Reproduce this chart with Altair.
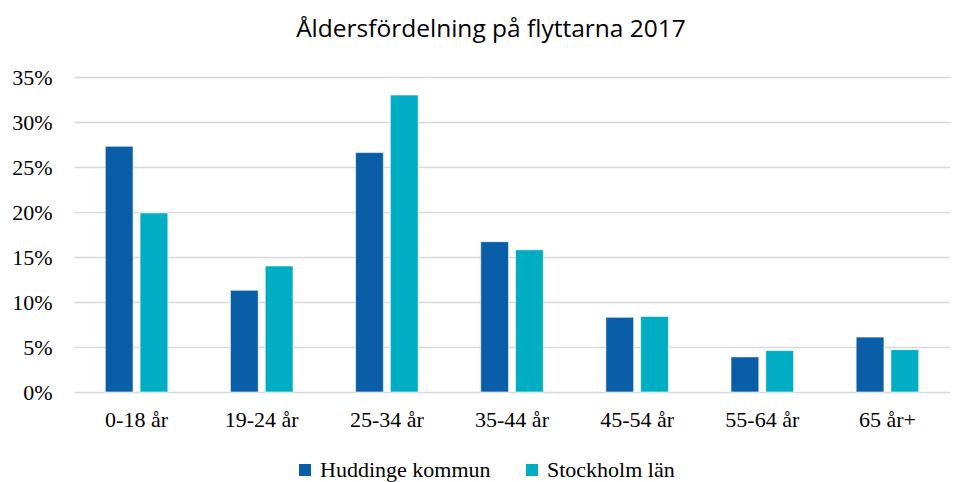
import altair as alt
import pandas as pd

categories = ["0-18 år", "19-24 år", "25-34 år", "35-44 år", "45-54 år", "55-64 år", "65 år+"]
huddinge = [0.273, 0.113, 0.266, 0.167, 0.083, 0.039, 0.061]
stockholm = [0.199, 0.140, 0.330, 0.158, 0.084, 0.046, 0.047]
series = ["Huddinge kommun", "Stockholm län"]
colors = ["#0A5EA8", "#00ADC2"]
y_ticks = [0, 0.05, 0.10, 0.15, 0.20, 0.25, 0.30, 0.35]

rows = []
for c, h, s in zip(categories, huddinge, stockholm):
    rows.append({"Ålder": c, "Serie": series[0], "Andel": h})
    rows.append({"Ålder": c, "Serie": series[1], "Andel": s})
df = pd.DataFrame(rows)

serif = "Liberation Serif, Times New Roman, serif"

chart = alt.Chart(df).mark_bar(stroke="#ffffff", strokeWidth=1, strokeOpacity=0.6).encode(
    x=alt.X("Ålder:N", sort=categories, title=None,
            scale=alt.Scale(paddingInner=0.5, paddingOuter=0.25),
            axis=alt.Axis(labelAngle=0, labelFont=serif, labelFontSize=22, labelColor="#000000",
                          domain=False, ticks=False, labelPadding=17, grid=False)),
    xOffset=alt.XOffset("Serie:N", sort=series, scale=alt.Scale(paddingInner=0.2)),
    y=alt.Y("Andel:Q", title=None,
            scale=alt.Scale(domain=[0, 0.35], nice=False),
            axis=alt.Axis(values=y_ticks, format=".0%", labelFont=serif, labelFontSize=22,
                          labelColor="#000000", domain=False, ticks=False, labelPadding=22,
                          gridColor="#d9d9d9", gridWidth=1.5)),
    color=alt.Color("Serie:N", sort=series,
                    scale=alt.Scale(domain=series, range=colors),
                    legend=alt.Legend(title=None, orient="none", legendX=220, legendY=382,
                                      direction="horizontal", symbolType="square", symbolSize=144,
                                      symbolStrokeWidth=0, labelOffset=4,
                                      labelFont=serif, labelFontSize=22, labelColor="#000000",
                                      columnPadding=30, labelLimit=300)),
).properties(
    width=876,
    height=315,
    title=alt.TitleParams("Åldersfördelning på flyttarna 2017", font="Open Sans", fontSize=24.5,
                          fontWeight="normal", color="#000000", offset=24, dx=-21),
    autosize=alt.AutoSizeParams(type="none"),
    padding={"left": 66, "top": 69, "right": 0, "bottom": 90},
).configure_view(stroke=None)

chart.save("out.html", embed_options={"renderer": "svg", "actions": False})
